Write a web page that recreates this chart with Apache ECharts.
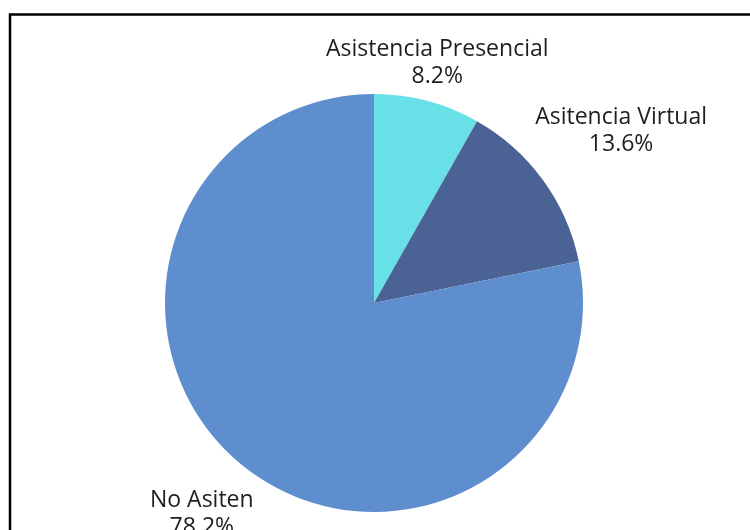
<!DOCTYPE html>
<html>
<head>
<meta charset="utf-8">
<script src="https://cdn.jsdelivr.net/npm/echarts@6/dist/echarts.min.js"></script>
<style>
html,body{margin:0;padding:0;background:#fff;}
#chart{width:750px;height:530px;}
</style>
</head>
<body>
<div id="chart"></div>
<script>
const categories = ['Asistencia Presencial', 'Asitencia Virtual', 'No Asiten'];
const values = [8.2, 13.6, 78.2];
const colors = ['#67E1E7', '#4A6394', '#5F8ECE'];
const labelOffsets = [[5, -38], [73, -49], [-35, 49]];

const chart = echarts.init(document.getElementById('chart'), null, {renderer: 'canvas'});
chart.setOption({
  backgroundColor: '#ffffff',
  animation: false,
  graphic: [{
    type: 'rect',
    shape: {x: 10, y: 14.5, width: 800, height: 600},
    style: {fill: 'none', stroke: '#000', lineWidth: 2.5},
    silent: true
  }],
  series: [{
    type: 'pie',
    center: [374, 303],
    radius: 209,
    startAngle: 90,
    clockwise: true,
    avoidLabelOverlap: false,
    label: {
      show: true,
      position: 'outside',
      formatter: p => p.name + '\n' + p.value.toFixed(1) + '%',
      fontFamily: 'Open Sans',
      fontSize: 23,
      lineHeight: 27,
      color: '#1e1e1e',
      align: 'center'
    },
    labelLine: {show: false, length: 0, length2: 0},
    labelLayout: function (params) {
      const o = labelOffsets[params.dataIndex];
      return {align: 'center', verticalAlign: 'middle', dx: o[0], dy: o[1]};
    },
    itemStyle: {borderWidth: 0},
    emphasis: {disabled: true},
    data: categories.map((c, i) => ({name: c, value: values[i], itemStyle: {color: colors[i]}}))
  }]
});
</script>
</body>
</html>
